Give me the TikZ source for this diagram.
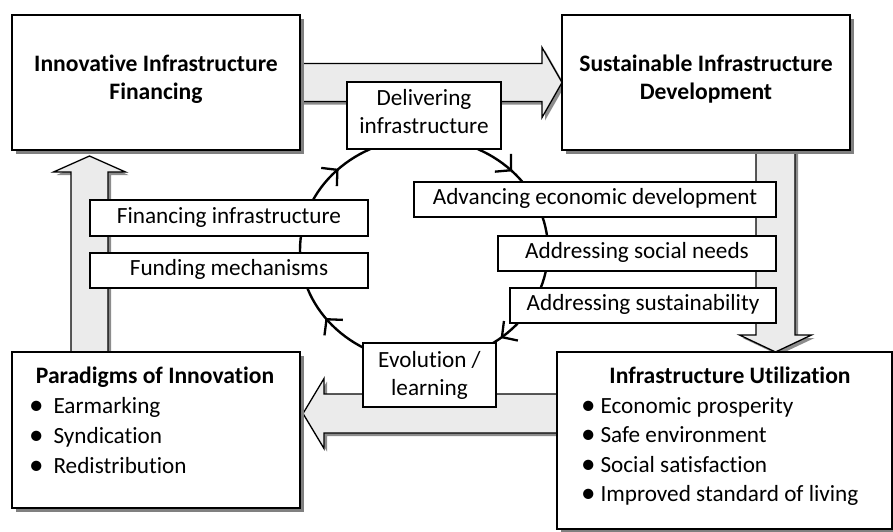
\documentclass[tikz,border=0pt]{standalone}
\usepackage{fontspec}
\setmainfont{Carlito}[Ligatures=NoCommon]
\usetikzlibrary{calc,shadows,arrows.meta,decorations.markings}

% broad block arrow from #1 (tail) to #2 (tip):
% #3 half shaft width, #4 half head width, #5 head length (all in pt)
\newcommand\flowarrow[5]{%
  \coordinate (fa-b) at ($(#2)!#5pt!(#1)$);
  \draw[barrow] ($(#1)!#3pt!90:(#2)$) -- ($(fa-b)!#3pt!90:(#2)$) -- ($(fa-b)!#4pt!90:(#2)$)
    -- (#2) -- ($(fa-b)!#4pt!-90:(#2)$) -- ($(fa-b)!#3pt!-90:(#2)$) -- ($(#1)!#3pt!-90:(#2)$) -- cycle;
}
% list bullet hanging to the left of the item text
\newcommand\bul[1]{\llap{\raisebox{-1.2pt}{\fontsize{29}{29}\selectfont\textbullet}\hspace{#1}}}

\tikzset{
  every node/.style={font=\fontsize{23.2}{28}\selectfont, text=black},
  bigbox/.style={draw, line width=2.4pt, fill=white, anchor=north west,
    inner sep=0pt, outer sep=0pt,
    drop shadow={shadow xshift=4pt, shadow yshift=-4pt, fill=black!50, opacity=1}},
  boxframe/.style={anchor=north west, inner sep=0pt, outer sep=0pt},
  smallbox/.style={draw, line width=1.3pt, fill=white, inner sep=0pt, outer sep=0pt,
    text height=15.5pt, text depth=5pt},
  headline/.style={anchor=base, font=\fontsize{23.6}{28}\selectfont\bfseries},
  bodyline/.style={anchor=base},
  itemline/.style={anchor=base west},
  barrow/.style={draw, line width=1.3pt, fill=black!8, line join=miter,
    drop shadow={shadow xshift=3pt, shadow yshift=-3pt, fill=black!45, opacity=1}},
  flowtip/.tip={Straight Barb[length=11pt, width=24pt, line width=2.3pt]},
  cycleflow/.style={line width=2.4pt, postaction={decorate},
    decoration={markings,
      mark=at position 0.125 with {\arrow{flowtip}},
      mark=at position 0.38 with {\arrow{flowtip}},
      mark=at position 0.64 with {\arrow{flowtip}},
      mark=at position 0.90 with {\arrow{flowtip}}}},
}

\begin{document}
\begin{tikzpicture}[x=1pt, y=-1pt]
\useasboundingbox (0,0) rectangle (893,531);
\clip (0,0) rectangle (893,531);

% outlines of the four main stages, used to place the block arrows
\node[boxframe, minimum width=288pt, minimum height=135pt] (fin) at (12,15) {};
\node[boxframe, minimum width=288pt, minimum height=135pt] (dev) at (562,15) {};
\node[boxframe, minimum width=288pt, minimum height=156pt] (par) at (12,352) {};
\node[boxframe, minimum width=335pt, minimum height=177pt] (use) at (557,352) {};

% block arrows between the stages
\flowarrow{fin.east}{dev.west}{19}{35}{20}
\path (dev.south east) ++(-74.5,0) coordinate (a2s);
\path (a2s |- use.north) coordinate (a2e);
\flowarrow{a2s}{a2e}{19.5}{36}{17}
\path (use.west |- 0,413.5) coordinate (a3s);
\path (par.east |- a3s) ++(3,0) coordinate (a3e);
\flowarrow{a3s}{a3e}{19.5}{35}{21}
\path (par.north west) ++(77.5,0) coordinate (a4s);
\path (a4s |- fin.south) ++(0,6) coordinate (a4e);
\flowarrow{a4s}{a4e}{18.5}{36}{16}

% inner cycle
\draw[cycleflow] (300,250) arc[start angle=180, end angle=540, x radius=124, y radius=112];

% main stage boxes
\node[bigbox, minimum width=288pt, minimum height=135pt] (finbox) at (fin.north west) {};
\node[headline] (fin-1) at (156,71) {Innovative Infrastructure};
\node[headline] (fin-2) at (156,99) {Financing};

\node[bigbox, minimum width=288pt, minimum height=135pt] (devbox) at (dev.north west) {};
\node[headline] (dev-1) at (706,71) {Sustainable Infrastructure};
\node[headline] (dev-2) at (706,99) {Development};

\node[bigbox, minimum width=288pt, minimum height=156pt] (parbox) at (par.north west) {};
\node[headline] (par-0) at (155,383) {Paradigms of Innovation};
\node[itemline] (par-1) at (50,413) {\bul{10pt}Earmarking};
\node[itemline] (par-2) at (50,443) {\bul{10pt}Syndication};
\node[itemline] (par-3) at (50,473) {\bul{10pt}Redistribution};

\node[bigbox, minimum width=335pt, minimum height=177pt] (usebox) at (use.north west) {};
\node[headline] (use-0) at (730,383) {Infrastructure Utilization};
\node[itemline] (use-1) at (597,413) {\bul{5pt}Economic prosperity};
\node[itemline] (use-2) at (597,442.5) {\bul{5pt}Safe environment};
\node[itemline] (use-3) at (597,472) {\bul{5pt}Social satisfaction};
\node[itemline] (use-4) at (597,501.5) {\bul{5pt}Improved standard of living};

% labels on the cycle
\node[smallbox, minimum width=154pt, minimum height=67pt] (deliv) at (424,115.5) {};
\node[bodyline] (deliv-1) at (424,105) {Delivering};
\node[bodyline] (deliv-2) at (424,133) {infrastructure};

\node[smallbox, minimum width=362pt, minimum height=35pt] (adv) at (595,199.5) {Advancing economic development};
\node[smallbox, minimum width=278pt, minimum height=35pt] (soc) at (637,253.5) {Addressing social needs};
\node[smallbox, minimum width=266pt, minimum height=35pt] (sus) at (643,305.5) {Addressing sustainability};

\node[smallbox, minimum width=278pt, minimum height=36pt] (finf) at (229,218) {Financing infrastructure};
\node[smallbox, minimum width=278pt, minimum height=35pt] (fund) at (229,270.5) {Funding mechanisms};

\node[smallbox, minimum width=133pt, minimum height=64pt] (evo) at (429.5,375) {};
\node[bodyline] (evo-1) at (429.5,367) {Evolution /};
\node[bodyline] (evo-2) at (429.5,395) {learning};
\end{tikzpicture}
\end{document}
